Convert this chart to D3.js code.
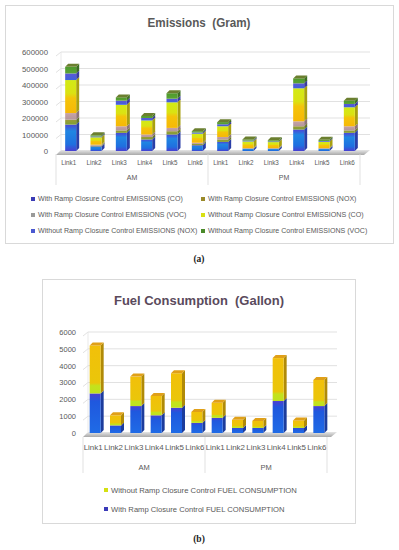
<!DOCTYPE html>
<html>
<head>
<meta charset="utf-8">
<title>Emissions and Fuel Consumption</title>
<script src="https://cdnjs.cloudflare.com/ajax/libs/d3/7.8.5/d3.min.js"></script>
<style>
    body { margin: 0; background: #fff; }
    svg { display: block; font-family: "Liberation Sans", Arial, sans-serif; }
    .tick text { fill: #595959; }
</style>
</head>
<body>
<script>
// ---- data ----
const links = ["Link1", "Link2", "Link3", "Link4", "Link5", "Link6"];
const periods = ["AM", "PM"];

// emissions, grams, AM Link1..Link6 then PM Link1..Link6
const withCO     = [160000, 28000, 110000, 70000, 100000, 35000, 55000, 12000, 12000, 130000, 12000, 110000];
const withNOX    = [30000, 5000, 15000, 15000, 20000, 8000, 15000, 3000, 3000, 20000, 3000, 15000];
const withVOC    = [40000, 5000, 25000, 15000, 20000, 7000, 15000, 3000, 3000, 30000, 3000, 25000];
const withoutCO  = [200000, 45000, 130000, 85000, 155000, 55000, 65000, 40000, 36000, 200000, 38000, 115000];
const withoutNOX = [40000, 5000, 25000, 15000, 22000, 7000, 12000, 5000, 4000, 30000, 5000, 20000];
const withoutVOC = [40000, 7000, 20000, 12000, 33000, 8000, 13000, 7000, 7000, 30000, 7000, 20000];

// fuel, gallons
const fuelWith    = [2350, 450, 1600, 1050, 1500, 600, 900, 300, 300, 1900, 300, 1600];
const fuelWithout = [2850, 600, 1750, 1150, 2050, 650, 900, 480, 420, 2550, 450, 1550];

const emissionTicks = [0, 100000, 200000, 300000, 400000, 500000, 600000];
const fuelTicks = [0, 1000, 2000, 3000, 4000, 5000, 6000];

const emissionNames = [
    "With Ramp Closure Control EMISSIONS (CO)",
    "With Ramp Closure Control EMISSIONS (NOX)",
    "With Ramp Closure Control EMISSIONS (VOC)",
    "Without Ramp Closure Control EMISSIONS (CO)",
    "Without Ramp Closure Control EMISSIONS (NOX)",
    "Without Ramp Closure Control EMISSIONS (VOC)"
];
const fuelNames = [
    "With Ramp Closure Control FUEL CONSUMPTION",
    "Without Ramp Closure Control FUEL CONSUMPTION"
];

const keys = periods.flatMap(p => links.map(l => p + "-" + l));
const textColor = "#595959";
const depth = 3;

const svg = d3.select("body").append("svg")
    .attr("width", 399)
    .attr("height", 550);

const defs = svg.append("defs");

// vertical gradients to imitate the shiny excel look
function gradient(id, stops) {
    const g = defs.append("linearGradient")
        .attr("id", id)
        .attr("x1", 0).attr("y1", 0).attr("x2", 0).attr("y2", 1);
    stops.forEach(s => g.append("stop").attr("offset", s[0]).attr("stop-color", s[1]));
}
gradient("eCO",   [[0, "#4d45d6"], [0.25, "#1f86e2"], [0.75, "#1f6fe0"], [1, "#4a3fd2"]]);
gradient("eNOX",  [[0, "#9c9a3a"], [1, "#7fa033"]]);
gradient("eVOC",  [[0, "#c7a2a6"], [1, "#b4969a"]]);
gradient("eWCO",  [[0, "#d2ea16"], [0.4, "#dbe212"], [0.55, "#f4c40a"], [1, "#f6b806"]]);
gradient("eWNOX", [[0, "#5c57d8"], [1, "#3e62da"]]);
gradient("eWVOC", [[0, "#4e9a2c"], [1, "#5aa334"]]);
gradient("fWith", [[0, "#4d3fd0"], [0.2, "#1f58de"], [1, "#1f6be6"]]);
gradient("fWithout", [[0, "#f2c00a"], [0.78, "#eac60a"], [0.84, "#c4e21c"], [1, "#bfe21e"]]);
gradient("floor", [[0, "#e6e6e6"], [1, "#a8a8a8"]]);

function fitText(sel, perChar) {
    sel.attr("textLength", d => (typeof d === "string" ? d : d.name).length * perChar)
       .attr("lengthAdjust", "spacingAndGlyphs");
}

function drawChart(cfg) {
    const g = svg.append("g");

    g.append("rect")
        .attr("x", cfg.box[0] + 0.5).attr("y", cfg.box[1] + 0.5)
        .attr("width", cfg.box[2]).attr("height", cfg.box[3])
        .attr("fill", "#fff").attr("stroke", "#d9d9d9");

    g.append("text")
        .attr("x", 199).attr("y", cfg.titleY)
        .attr("text-anchor", "middle")
        .attr("font-size", 13.5).attr("font-weight", "bold")
        .attr("fill", cfg.titleColor)
        .attr("textLength", cfg.titleWidth).attr("lengthAdjust", "spacingAndGlyphs")
        .style("white-space", "pre")
        .text(cfg.title);

    const x = d3.scaleBand().domain(keys).range(cfg.xRange);
    const y = d3.scaleLinear().domain([0, cfg.ticks[cfg.ticks.length - 1]]).range(cfg.yRange);
    const y0 = y(0);
    const left = cfg.xRange[0], right = cfg.xRange[1];

    // gridlines on the back wall
    g.append("g").selectAll("path")
        .data(cfg.ticks.slice(1))
        .join("path")
        .attr("d", t => `M${left},${y(t) + 4}L${left + 5},${y(t)}H${right + 10}`)
        .attr("fill", "none").attr("stroke", "#d9d9d9").attr("stroke-width", 0.8);
    g.append("line")
        .attr("x1", left + 5).attr("x2", left + 5)
        .attr("y1", y(cfg.ticks[cfg.ticks.length - 1])).attr("y2", y0 - 1)
        .attr("stroke", "#e3e3e3").attr("stroke-width", 0.8);

    // floor
    g.append("path")
        .attr("d", `M${left},${y0 + 4}L${right + 4},${y0 + 4}L${right + 10},${y0 - 1}L${left + 5},${y0 - 1}Z`)
        .attr("fill", "url(#floor)");

    // y axis
    const yAxis = g.append("g")
        .attr("transform", `translate(${cfg.yLabelX},0)`)
        .call(d3.axisLeft(y).tickValues(cfg.ticks).tickSize(0).tickPadding(0).tickFormat(d3.format("d")));
    yAxis.select(".domain").remove();
    yAxis.selectAll("text").attr("font-size", cfg.tickFont).attr("font-family", "Liberation Sans, Arial");

    // stacked 3d bars
    const rows = keys.map((k, i) => {
        const r = { key: k };
        cfg.series.forEach(s => { r[s.name] = s.values[i]; });
        return r;
    });
    const stacked = d3.stack().keys(cfg.series.map(s => s.name))(rows);
    const bw = cfg.barWidth;
    const fx = k => x(k) + x.bandwidth() / 2 + 2 - bw / 2;

    stacked.forEach((layer, li) => {
        const s = cfg.series[li];
        const lg = g.append("g");
        lg.selectAll("path.side")
            .data(layer)
            .join("path")
            .attr("class", "side")
            .attr("d", d => {
                const xr = fx(d.data.key) + bw, yt = y(d[1]), yb = y(d[0]);
                return `M${xr},${yt}L${xr + depth},${yt - depth}V${yb - depth}L${xr},${yb}Z`;
            })
            .attr("fill", s.side);
        lg.selectAll("rect")
            .data(layer)
            .join("rect")
            .attr("x", d => fx(d.data.key))
            .attr("y", d => y(d[1]))
            .attr("width", bw)
            .attr("height", d => y(d[0]) - y(d[1]))
            .attr("fill", `url(#${s.grad})`);
        if (li === stacked.length - 1) {
            lg.selectAll("path.top")
                .data(layer)
                .join("path")
                .attr("class", "top")
                .attr("d", d => {
                    const xl = fx(d.data.key), yt = y(d[1]);
                    return `M${xl},${yt}L${xl + depth},${yt - depth}H${xl + bw + depth}L${xl + bw},${yt}Z`;
                })
                .attr("fill", s.top);
        }
    });

    // category axis: links then AM / PM
    const xAxis = g.append("g")
        .attr("transform", `translate(0,${cfg.linkY})`)
        .call(d3.axisBottom(x).tickSize(0).tickPadding(0).tickFormat(k => k.split("-")[1]));
    xAxis.select(".domain").remove();
    xAxis.selectAll("text")
        .attr("font-size", cfg.linkFont)
        .attr("dy", "0.35em")
        .attr("textLength", cfg.linkWidth).attr("lengthAdjust", "spacingAndGlyphs");

    const step = x.step();
    g.append("g").selectAll("text")
        .data(periods)
        .join("text")
        .attr("x", (p, i) => left + step * 6 * i + step * 3)
        .attr("y", cfg.periodY)
        .attr("dy", "0.35em")
        .attr("text-anchor", "middle")
        .attr("font-size", cfg.linkFont)
        .attr("fill", textColor)
        .text(p => p);

    g.append("g").selectAll("line")
        .data([0, 6, 12])
        .join("line")
        .attr("x1", i => left + step * i).attr("x2", i => left + step * i)
        .attr("y1", cfg.sepY[0]).attr("y2", cfg.sepY[1])
        .attr("stroke", "#d9d9d9").attr("stroke-width", 0.8);

    // legend
    const items = g.append("g").selectAll("g")
        .data(cfg.legend)
        .join("g")
        .attr("transform", d => `translate(${d.x},${d.y})`);
    items.append("rect")
        .attr("x", 0).attr("y", -2)
        .attr("width", 4).attr("height", 4)
        .attr("fill", d => d.color);
    items.append("text")
        .attr("x", 7).attr("y", 0).attr("dy", "0.35em")
        .attr("font-size", cfg.legendFont)
        .attr("fill", textColor)
        .text(d => d.name)
        .call(fitText, cfg.legendPerChar);

    g.append("text")
        .attr("x", 199).attr("y", cfg.captionY)
        .attr("text-anchor", "middle")
        .attr("font-family", "Liberation Serif, serif")
        .attr("font-size", 9.5).attr("font-weight", "bold")
        .attr("fill", "#222")
        .text(cfg.caption);
}

// (a) emissions
const emissionSeries = [
    { name: emissionNames[0], values: withCO,     grad: "eCO",   side: "#2a3fa8", top: "#2a56c8" },
    { name: emissionNames[1], values: withNOX,    grad: "eNOX",  side: "#66772a", top: "#8a9a3a" },
    { name: emissionNames[2], values: withVOC,    grad: "eVOC",  side: "#8e7478", top: "#b89aa0" },
    { name: emissionNames[3], values: withoutCO,  grad: "eWCO",  side: "#a8a010", top: "#c8c020" },
    { name: emissionNames[4], values: withoutNOX, grad: "eWNOX", side: "#3a3c9c", top: "#5a5ad0" },
    { name: emissionNames[5], values: withoutVOC, grad: "eWVOC", side: "#3d6e22", top: "#6b7f2f" }
];
const emissionColors = ["#3b3bb5", "#9a8a2a", "#9a9a9a", "#d8e012", "#4a58d0", "#4a8a2a"];

drawChart({
    box: [5, 5, 388, 238],
    title: "Emissions  (Gram)",
    titleColor: "#595959",
    titleY: 27, titleWidth: 103,
    xRange: [56, 360], yRange: [151, 52],
    ticks: emissionTicks,
    yLabelX: 48, tickFont: 7.8,
    barWidth: 11,
    series: emissionSeries,
    linkY: 163, linkFont: 7, linkWidth: 15,
    periodY: 178, sepY: [154, 185],
    legend: emissionNames.map((n, i) => ({
        name: n, color: emissionColors[i],
        x: i % 2 === 0 ? 31 : 201,
        y: 199 + Math.floor(i / 2) * 16
    })),
    legendFont: 7, legendPerChar: 3.62,
    caption: "(a)", captionY: 262
});

// (b) fuel consumption
drawChart({
    box: [42, 279, 313, 244],
    title: "Fuel Consumption  (Gallon)",
    titleColor: "#5a4a5c",
    titleY: 305, titleWidth: 170,
    xRange: [83, 327], yRange: [433, 332],
    ticks: fuelTicks,
    yLabelX: 76, tickFont: 7.5,
    barWidth: 11,
    series: [
        { name: fuelNames[0], values: fuelWith,    grad: "fWith",    side: "#1c3c9c", top: "#2a4fc0" },
        { name: fuelNames[1], values: fuelWithout, grad: "fWithout", side: "#b08a08", top: "#e0a018" }
    ],
    linkY: 447, linkFont: 7.5, linkWidth: 19,
    periodY: 467, sepY: [437, 473],
    legend: [
        { name: fuelNames[1], color: "#d4e012", x: 104, y: 490 },
        { name: fuelNames[0], color: "#3a3ab8", x: 104, y: 509 }
    ],
    legendFont: 7.5, legendPerChar: 4.13,
    caption: "(b)", captionY: 542
});
</script>
</body>
</html>
